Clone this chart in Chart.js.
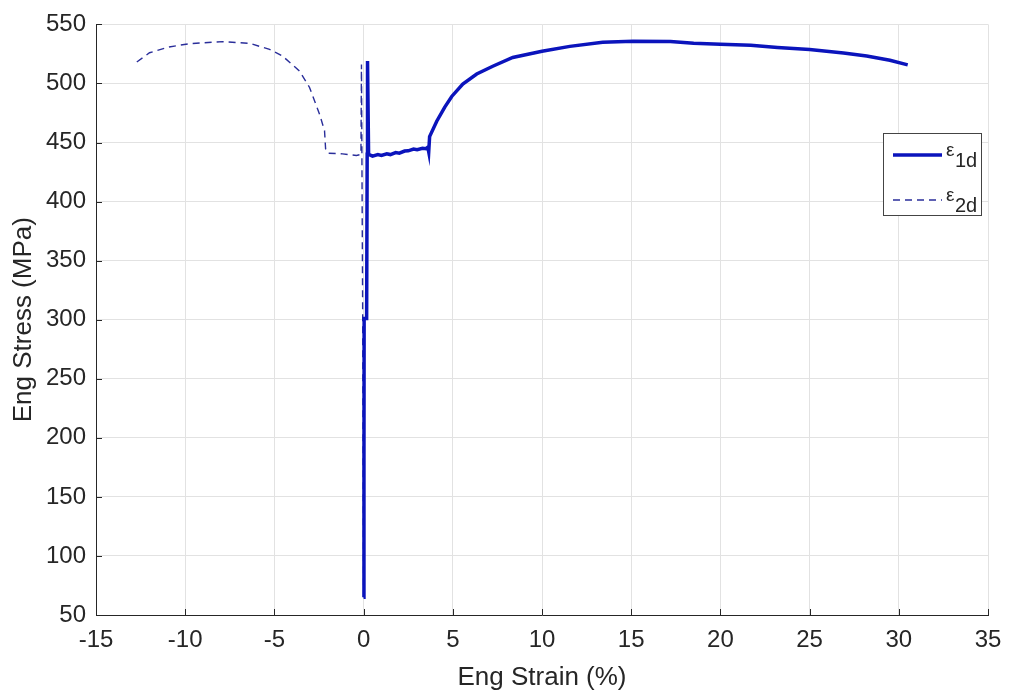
<!DOCTYPE html>
<html>
<head>
<meta charset="utf-8">
<script src="https://cdn.jsdelivr.net/npm/chart.js@4/dist/chart.umd.min.js"></script>
<style>
  html, body { margin: 0; padding: 0; background: #fff; }
  #wrap { width: 1009px; height: 696px; position: relative; }
</style>
</head>
<body>
<div id="wrap"><canvas id="c"></canvas></div>
<script>
/* stress-strain curves: longitudinal (1d) and transverse (2d) strain */

// ── data ────────────────────────────────────────────────
const strain1 = [0.0, 0.02, 0.03, 0.17, 0.2, 0.22, 0.28, 0.5, 0.8, 1.0, 1.3, 1.5, 1.8, 2.0, 2.3, 2.5, 2.8,
  3.0, 3.3, 3.5, 3.6, 3.65, 3.7, 4.1, 4.55, 4.94, 5.56, 6.34, 7.24, 8.36, 10.0, 11.56, 13.4,
  15.1, 17.2, 18.5, 20.0, 21.7, 23.2, 25.0, 26.9, 28.2, 29.5, 30.5];
const stress1 = [65, 180, 301, 301, 440, 519, 440, 438.5, 439.8, 439, 440.5, 439.8, 441.5, 441, 442.8, 443, 444.5,
  444, 445.2, 444.8, 446, 442, 455, 468, 480, 489, 499.5, 508, 514.6, 522, 527.2, 531.4, 534.8,
  535.7, 535.6, 534, 533.1, 532.3, 530.4, 528.7, 525.8, 523.3, 519.6, 515.7];

const strain2 = [0.0, -0.05, -0.12, -0.15, -0.4, -1.18, -2.0, -2.13, -2.19, -2.47, -3.03, -3.6,
  -4.55, -5.27, -6.4, -7.9, -9.76, -10.9, -12.0, -12.81];
const stress2 = [65, 300, 516, 440, 439, 440.4, 441, 444.6, 460, 474, 496.6, 510.6,
  523.3, 528.9, 534, 535.4, 533.7, 530.9, 526, 517.1];

const seriesNames = [['\u03B5', '1d'], ['\u03B5', '2d']];
const COLORS = ['#0b14bc', '#2a2e9a'];

const FONT = "'Liberation Sans', Arial, Helvetica, sans-serif";
const INK = '#262626';

const pts = (xs, ys) => xs.map((x, i) => ({ x, y: ys[i] }));

// ── legend box + inward tick marks ──────────────────────
const extras = {
  id: 'extras',
  afterDraw(chart) {
    const { ctx, chartArea: a, scales } = chart;
    ctx.save();
    // inward ticks
    ctx.strokeStyle = INK;
    ctx.lineWidth = 1;
    ctx.beginPath();
    scales.x.ticks.forEach(t => {
      const px = Math.round(scales.x.getPixelForValue(t.value)) + 0.5;
      ctx.moveTo(px, a.bottom); ctx.lineTo(px, a.bottom - 6);
    });
    scales.y.ticks.forEach(t => {
      const py = Math.round(scales.y.getPixelForValue(t.value)) + 0.5;
      ctx.moveTo(a.left, py); ctx.lineTo(a.left + 6, py);
    });
    ctx.stroke();

    // legend
    const bx = 883.5, by = 133.5, bw = 98, bh = 82;
    ctx.fillStyle = '#fff';
    ctx.fillRect(bx, by, bw, bh);
    ctx.strokeStyle = '#444';
    ctx.strokeRect(bx, by, bw, bh);
    const rows = [155, 200];
    rows.forEach((ry, i) => {
      ctx.strokeStyle = COLORS[i];
      ctx.lineWidth = i === 0 ? 3.5 : 1.4;
      ctx.setLineDash(i === 0 ? [] : [7, 5]);
      ctx.beginPath();
      ctx.moveTo(893, ry); ctx.lineTo(942, ry);
      ctx.stroke();
      ctx.setLineDash([]);
      ctx.fillStyle = INK;
      ctx.textBaseline = 'alphabetic';
      ctx.textAlign = 'left';
      ctx.font = '19px ' + FONT;
      ctx.fillText(seriesNames[i][0], 946, ry + 1);
      ctx.font = '20px ' + FONT;
      ctx.fillText(seriesNames[i][1], 955, ry + 12);
    });
    ctx.restore();
  }
};

new Chart(document.getElementById('c'), {
  type: 'scatter',
  data: {
    datasets: [
      {
        label: '\u03B5 1d',
        data: pts(strain1, stress1),
        showLine: true,
        borderColor: COLORS[0],
        borderWidth: 3.5,
        pointRadius: 0,
        tension: 0,
      },
      {
        label: '\u03B5 2d',
        data: pts(strain2, stress2),
        showLine: true,
        borderColor: COLORS[1],
        borderWidth: 1.4,
        borderDash: [7, 5],
        pointRadius: 0,
        tension: 0,
      },
    ],
  },
  options: {
    responsive: true,
    maintainAspectRatio: false,
    animation: false,
    layout: { padding: { top: 20, right: 21, left: 0, bottom: 0 } },
    plugins: {
      legend: { display: false },
      tooltip: { enabled: false },
    },
    scales: {
      x: {
        type: 'linear',
        min: -15, max: 35,
        border: { display: true, color: INK, width: 1 },
        grid: { color: '#e2e2e2', drawTicks: false },
        ticks: { stepSize: 5, padding: 11, color: INK, font: { family: FONT, size: 24 } },
        title: { display: true, text: 'Eng Strain (%)', color: INK,
                 font: { family: FONT, size: 26 }, padding: { top: 0, bottom: 3 } },
        afterFit: s => { s.height = 81; s.paddingRight = 0; },
      },
      y: {
        min: 50, max: 550,
        border: { display: true, color: INK, width: 1 },
        grid: { color: '#e2e2e2', drawTicks: false },
        ticks: { stepSize: 50, padding: 10, color: INK, font: { family: FONT, size: 24 } },
        title: { display: true, text: 'Eng Stress (MPa)', color: INK,
                 font: { family: FONT, size: 26 }, padding: { top: 8, bottom: 0 } },
        afterFit: s => { s.width = 96; },
      },
    },
  },
  plugins: [extras],
});
</script>
</body>
</html>
